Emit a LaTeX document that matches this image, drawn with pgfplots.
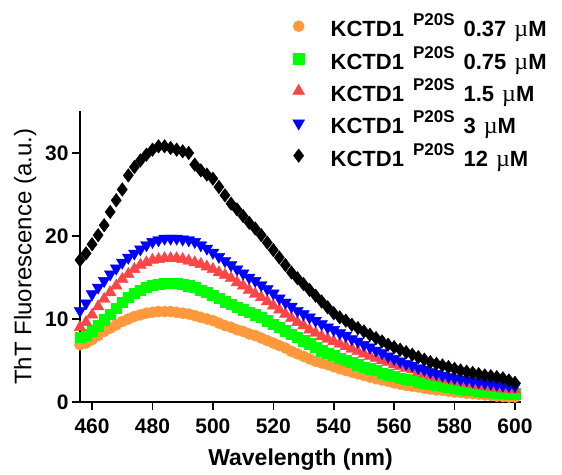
\documentclass[border=0pt]{standalone}
\usepackage{fontspec}
\setmainfont{Liberation Sans}
\newfontfamily\mufont{Liberation Serif}
\usepackage{pgfplots}
\usepackage{pgfplotstable}
\pgfplotsset{compat=1.18}

\definecolor{cOrange}{RGB}{255,153,60}
\definecolor{cGreen}{RGB}{0,255,0}
\definecolor{cRed}{RGB}{250,70,70}
\definecolor{cBlue}{RGB}{0,0,255}

% wavelength, then ThT signal for 0.37, 0.75, 1.5, 3 and 12 uM
\pgfplotstableread{
wl   c037  c075  c15   c3    c12
456  6.9   7.8   9.0   11.0  17.1
458  7.1   8.1   9.6   11.9  17.9
460  7.5   8.6   10.5  13.0  19.0
462  8.0   9.2   11.5  13.8  20.1
464  8.5   9.9   12.4  14.6  21.3
466  8.9   10.6  13.2  15.4  22.9
468  9.3   11.3  14.0  16.1  24.3
470  9.7   12.0  14.8  16.8  25.6
472  10.0  12.6  15.4  17.4  27.3
474  10.3  13.1  16.0  17.9  28.3
476  10.5  13.5  16.5  18.4  29.1
478  10.7  13.8  16.8  18.9  29.8
480  10.8  14.1  17.1  19.3  30.4
482  10.9  14.2  17.2  19.5  30.8
484  10.9  14.3  17.3  19.7  30.8
486  10.9  14.3  17.3  19.7  30.6
488  10.8  14.3  17.3  19.7  30.4
490  10.7  14.2  17.2  19.6  30.2
492  10.6  14.0  17.0  19.5  30.0
494  10.4  13.8  16.8  19.3  28.6
496  10.2  13.5  16.6  18.9  27.9
498  10.0  13.2  16.3  18.5  27.4
500  9.8   12.9  16.0  18.0  26.9
502  9.5   12.5  15.6  17.5  25.9
504  9.2   12.1  15.3  17.0  24.9
506  9.0   11.8  14.9  16.5  23.9
508  8.7   11.4  14.4  16.0  23.2
510  8.5   11.1  14.0  15.5  22.4
512  8.2   10.8  13.5  15.0  21.6
514  8.0   10.5  13.0  14.6  20.9
516  7.7   10.2  12.6  14.1  20.1
518  7.4   9.8   12.1  13.6  19.2
520  7.1   9.4   11.6  13.1  18.3
522  6.8   9.0   11.1  12.5  17.4
524  6.5   8.6   10.6  12.0  16.5
526  6.1   8.2   10.1  11.5  15.6
528  5.8   7.8   9.6   11.0  14.9
530  5.5   7.4   9.2   10.6  14.2
532  5.2   7.0   8.7   10.2  13.5
534  4.9   6.6   8.3   9.8   12.8
536  4.7   6.2   7.9   9.4   12.1
538  4.5   5.9   7.6   9.0   11.4
540  4.25  5.6   7.3   8.7   10.7
542  4.0   5.3   7.0   8.3   10.2
544  3.8   5.0   6.7   8.0   9.8
546  3.6   4.8   6.4   7.6   9.3
548  3.4   4.5   6.1   7.3   8.9
550  3.2   4.2   5.8   6.9   8.5
552  3.0   4.0   5.5   6.6   8.1
554  2.8   3.8   5.3   6.2   7.7
556  2.65  3.5   5.0   5.9   7.3
558  2.5   3.3   4.8   5.5   6.9
560  2.3   3.1   4.5   5.2   6.6
562  2.15  2.9   4.3   4.9   6.3
564  2.0   2.75  4.1   4.6   6.0
566  1.9   2.6   3.9   4.4   5.7
568  1.8   2.45  3.6   4.1   5.4
570  1.65  2.3   3.4   3.9   5.1
572  1.55  2.15  3.2   3.6   4.8
574  1.45  2.0   3.0   3.4   4.6
576  1.4   1.9   2.85  3.2   4.4
578  1.3   1.8   2.7   3.05  4.2
580  1.2   1.7   2.55  2.9   4.0
582  1.15  1.6   2.4   2.75  3.8
584  1.05  1.5   2.25  2.65  3.65
586  1.0   1.4   2.15  2.5   3.5
588  0.95  1.3   2.0   2.4   3.35
590  0.85  1.25  1.9   2.3   3.2
592  0.8   1.2   1.8   2.2   3.1
594  0.7   1.1   1.7   2.1   3.0
596  0.65  1.05  1.6   2.0   2.85
598  0.6   1.0   1.55  1.95  2.6
600  0.6   1.0   1.5   1.9   2.3
}\thtdata

\newcommand{\kname}[1]{KCTD1\hspace{9pt}\raisebox{0.5em}{\fontsize{17}{17}\selectfont P20S}\hspace{9pt}#1\hspace{8pt}{\mufont\mdseries\fontsize{24}{24}\selectfont µ}M}

\begin{document}
\begin{tikzpicture}
\begin{axis}[
    scale only axis,
    width=441pt, height=290.5pt,
    xmin=456, xmax=602,
    ymin=0, ymax=35,
    axis x line=bottom,
    axis y line=left,
    axis line style={-, line width=1.6pt},
    xtick={460,480,...,600},
    ytick={0,10,20,30},
    tick align=outside,
    major tick length=8pt,
    tick style={line width=1.6pt, black},
    /pgf/number format/assume math mode=true,
    /pgf/number format/1000 sep={},
    tick label style={font=\fontsize{21}{21}\selectfont\bfseries},
    xticklabel style={yshift=-5pt},
    xlabel={Wavelength (nm)},
    ylabel={ThT Fluorescence (a.u.)},
    xlabel style={font=\fontsize{23}{23}\selectfont\bfseries, yshift=-9pt},
    ylabel style={font=\fontsize{24}{24}\selectfont, yshift=2pt},
    legend style={at={(0.466,1.35)}, anchor=north west, draw=none, fill=none,
        font=\fontsize{22}{24}\selectfont\bfseries, row sep=4pt},
    legend cell align=left,
    legend image code/.code={
        \path[draw=none, fill=none] (0pt,-1pt) rectangle (40pt,1pt);
        \draw[#1] plot coordinates {(10pt,0pt)};
    },
    clip=false,
]
\addplot[only marks, mark=*, mark size=5.6pt, color=cOrange] table[x=wl, y=c037] {\thtdata};
\addlegendentry{\kname{0.37}}
\addplot[only marks, mark=square*, mark size=5.2pt, color=cGreen] table[x=wl, y=c075] {\thtdata};
\addlegendentry{\kname{0.75}}
\addplot[only marks, mark=triangle*, mark size=6.8pt, color=cRed] table[x=wl, y=c15] {\thtdata};
\addlegendentry{\kname{1.5}}
\addplot[only marks, mark=triangle*, mark size=6.8pt, mark options={rotate=180}, color=cBlue] table[x=wl, y=c3] {\thtdata};
\addlegendentry{\kname{3}}
\addplot[only marks, mark=diamond*, mark size=6.8pt, color=black] table[x=wl, y=c12] {\thtdata};
\addlegendentry{\kname{12}}
\coordinate (bbsw) at (rel axis cs:-0.1814,-0.2513);
\coordinate (bbne) at (rel axis cs:1.093,1.3838);
\end{axis}
\pgfresetboundingbox
\path (bbsw) rectangle (bbne);
\end{tikzpicture}
\end{document}
